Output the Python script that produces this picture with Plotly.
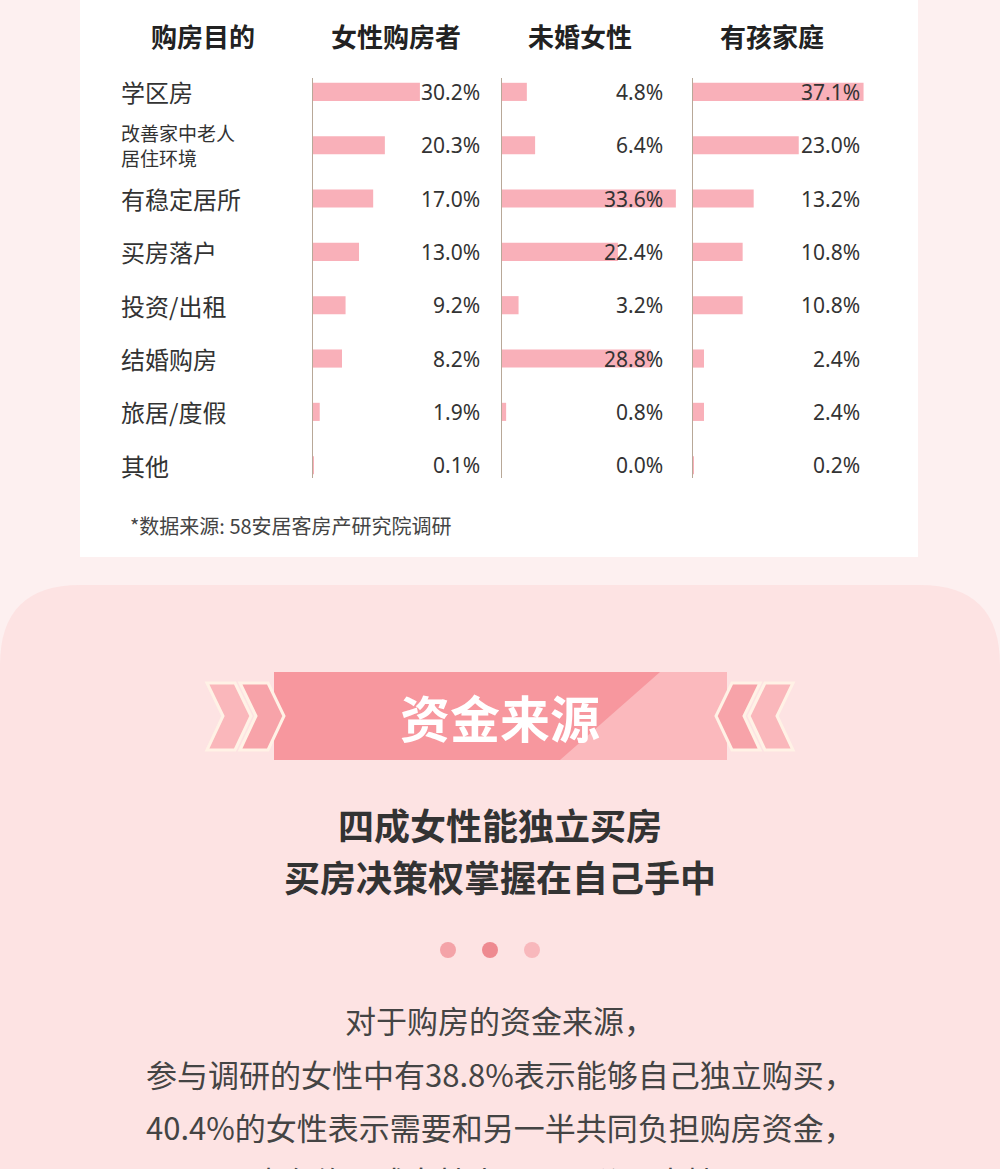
import plotly.graph_objects as go

W, H = 1000, 1169

headers = ["购房目的", "女性购房者", "未婚女性", "有孩家庭"]
purposes = ["学区房", "改善家中老人<br>居住环境", "有稳定居所", "买房落户",
            "投资/出租", "结婚购房", "旅居/度假", "其他"]
female_buyers = [30.2, 20.3, 17.0, 13.0, 9.2, 8.2, 1.9, 0.1]
unmarried = [4.8, 6.4, 33.6, 22.4, 3.2, 28.8, 0.8, 0.0]
with_kids = [37.1, 23.0, 13.2, 10.8, 10.8, 2.4, 2.4, 0.2]
source_note = "*数据来源: 58安居客房产研究院调研"

banner_title = "资金来源"
headline = ["四成女性能独立买房", "买房决策权掌握在自己手中"]
body = ["对于购房的资金来源，",
        "参与调研的女性中有38.8%表示能够自己独立购买，",
        "40.4%的女性表示需要和另一半共同负担购房资金，",
        "也有约两成女性表示需要父母支持。"]

FONT = "Noto Sans CJK SC"
BAR = "#f9b0b9"


def px(x):
    return x / W


def py(y):
    return 1 - y / H


def path(points):
    return "M " + " L ".join(f"{px(x):.5f},{py(y):.5f}" for x, y in points) + " Z"


def round_rect(x0, y0, x1, y1, r):
    return (f"M {px(x0):.5f},{py(y0 + r):.5f} "
            f"Q {px(x0):.5f},{py(y0):.5f} {px(x0 + r):.5f},{py(y0):.5f} "
            f"L {px(x1 - r):.5f},{py(y0):.5f} "
            f"Q {px(x1):.5f},{py(y0):.5f} {px(x1):.5f},{py(y0 + r):.5f} "
            f"L {px(x1):.5f},{py(y1):.5f} L {px(x0):.5f},{py(y1):.5f} Z")


def text_at(x, y, text, size, color="#333", anchor="center", **kw):
    # place text by pixel position (centre of the line)
    return dict(x=px(x), y=py(y), xref="paper", yref="paper", text=text, showarrow=False,
                xanchor=anchor, yanchor="middle", font=dict(size=size, color=color, family=FONT), **kw)


columns = [
    (female_buyers, (313, 490), 50.0, 482),
    (unmarried, (502, 680), 34.4, 665),
    (with_kids, (693, 870), 38.5, 862),
]

fig = go.Figure()
rows = list(range(len(purposes)))
annotations = []
layout_axes = {}

for i, (vals, (x0, x1), xmax, label_x) in enumerate(columns):
    sfx = "" if i == 0 else str(i + 1)
    fig.add_trace(go.Bar(
        x=vals, y=rows, orientation="h", width=0.34,
        marker=dict(color=BAR, line=dict(width=0)),
        xaxis="x" + sfx, yaxis="y" + sfx, hoverinfo="skip", showlegend=False,
    ))
    layout_axes["xaxis" + sfx] = dict(domain=[px(x0), px(x1)], range=[0, xmax],
                                      visible=False, anchor="y" + sfx, fixedrange=True)
    layout_axes["yaxis" + sfx] = dict(domain=[py(478), py(78)], range=[7.24, -0.26],
                                      anchor="x" + sfx, showline=True, linecolor="#b8a898",
                                      linewidth=1.2, showticklabels=False, ticks="",
                                      showgrid=False, zeroline=False, fixedrange=True)
    for r, v in zip(rows, vals):
        annotations.append(dict(x=px(label_x), xref="paper", y=r, yref="y" + sfx,
                                text=f"{v:.1f}%", showarrow=False, xanchor="right",
                                font=dict(size=21, color="#333", family="Noto Sans")))

for r, name in zip(rows, purposes):
    small = "<br>" in name
    annotations.append(dict(x=px(119), xref="paper", y=r, yref="y", text=name,
                            showarrow=False, xanchor="left", align="left",
                            font=dict(size=19 if small else 24, color="#333", family=FONT)))

for hx, h in zip([203, 396, 580, 772], headers):
    annotations.append(text_at(hx, 35, f"<b>{h}</b>", 26, "#222"))

annotations.append(text_at(128, 525, source_note, 20, "#444", anchor="left"))
annotations.append(text_at(500, 716, f"<b>{banner_title}</b>", 50, "white"))
for y, t in zip([824, 876], headline):
    annotations.append(text_at(500, y, f"<b>{t}</b>", 36, "#333"))
for y, t in zip([1020, 1073, 1126, 1180], body):
    annotations.append(text_at(500, y, t, 31, "#444"))

shapes = [
    dict(type="rect", x0=px(80), x1=px(918), y0=py(557), y1=py(-5), xref="paper", yref="paper",
         fillcolor="white", line_width=0, layer="below"),
    dict(type="path", path=round_rect(0, 585, 1000, 1200, 80), xref="paper", yref="paper",
         fillcolor="#fde3e3", line_width=0, layer="below"),
    # banner ribbon
    dict(type="path", path=path([(274, 672), (727, 672), (727, 760), (274, 760)]),
         xref="paper", yref="paper", fillcolor="#f7979e", line_width=0, layer="below"),
    dict(type="path", path=path([(560, 760), (660, 672), (727, 672), (727, 760)]),
         xref="paper", yref="paper", fillcolor="#fbb9bd", line_width=0, layer="below"),
]
# chevrons
for x0, col in [(207, "#fab7bb"), (240, "#f7a3a9")]:
    shapes.append(dict(type="path", path=path([(x0, 683), (x0 + 28, 683), (x0 + 44, 716),
                                               (x0 + 28, 750), (x0, 750), (x0 + 16, 716)]),
                       xref="paper", yref="paper", fillcolor=col,
                       line=dict(color="#fff2e6", width=3), layer="below"))
for x0, col in [(793, "#fab7bb"), (760, "#f7a3a9")]:
    shapes.append(dict(type="path", path=path([(x0, 683), (x0 - 28, 683), (x0 - 44, 716),
                                               (x0 - 28, 750), (x0, 750), (x0 - 16, 716)]),
                       xref="paper", yref="paper", fillcolor=col,
                       line=dict(color="#fff2e6", width=3), layer="below"))
# dots
for cx, col in [(448, "#f4a3a8"), (490, "#ee8a90"), (532, "#f8b8bc")]:
    shapes.append(dict(type="circle", x0=px(cx - 8), x1=px(cx + 8), y0=py(958), y1=py(942),
                       xref="paper", yref="paper", fillcolor=col, line_width=0))

fig.update_layout(
    width=W, height=H, margin=dict(l=0, r=0, t=0, b=0),
    paper_bgcolor="#fdf0f0", plot_bgcolor="rgba(0,0,0,0)",
    annotations=annotations, shapes=shapes, barmode="overlay",
    **layout_axes,
)

fig.write_html("out.html", config={"displayModeBar": False},
               post_script="document.body.style.margin='0';")
